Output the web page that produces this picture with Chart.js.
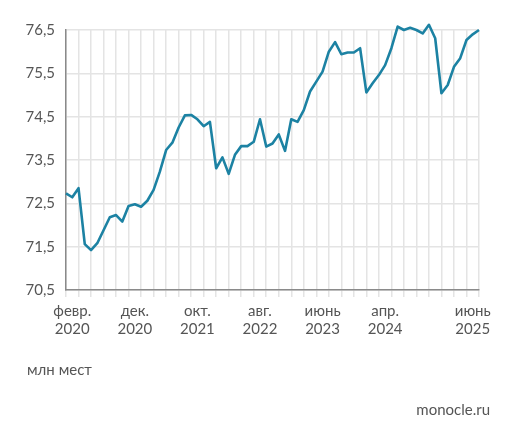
<!DOCTYPE html>
<html>
<head>
<meta charset="utf-8">
<script src="https://cdn.jsdelivr.net/npm/chart.js@4"></script>
<style>
  body { margin: 0; background: #fff; }
  #wrap { position: relative; width: 516px; height: 439px; }
  .note { position: absolute; font-family: Lato, "Open Sans", sans-serif; font-size: 15px; color: #555; }
</style>
</head>
<body>
<div id="wrap">
  <canvas id="chart" width="516" height="439"></canvas>
  <div class="note" style="left:27px; top:360px;">млн мест</div>
  <div class="note" style="right:26px; top:400px;">monocle.ru</div>
</div>
<script>
// monthly, Jan 2020 - Jul 2025
const months = [
  "2020-01","2020-02","2020-03","2020-04","2020-05","2020-06","2020-07","2020-08","2020-09","2020-10","2020-11","2020-12",
  "2021-01","2021-02","2021-03","2021-04","2021-05","2021-06","2021-07","2021-08","2021-09","2021-10","2021-11","2021-12",
  "2022-01","2022-02","2022-03","2022-04","2022-05","2022-06","2022-07","2022-08","2022-09","2022-10","2022-11","2022-12",
  "2023-01","2023-02","2023-03","2023-04","2023-05","2023-06","2023-07","2023-08","2023-09","2023-10","2023-11","2023-12",
  "2024-01","2024-02","2024-03","2024-04","2024-05","2024-06","2024-07","2024-08","2024-09","2024-10","2024-11","2024-12",
  "2025-01","2025-02","2025-03","2025-04","2025-05","2025-06","2025-07"
];

const values = [
  72.73, 72.64, 72.85, 71.56, 71.42, 71.58, 71.88, 72.18, 72.23, 72.08, 72.44, 72.48,
  72.42, 72.56, 72.81, 73.23, 73.73, 73.90, 74.25, 74.53, 74.54, 74.44, 74.28, 74.38,
  73.31, 73.56, 73.18, 73.62, 73.82, 73.82, 73.92, 74.44, 73.81, 73.88, 74.09, 73.71,
  74.44, 74.38, 74.65, 75.08, 75.31, 75.54, 76.00, 76.22, 75.94, 75.98, 75.98, 76.08,
  75.06, 75.27, 75.46, 75.69, 76.08, 76.58, 76.50, 76.55, 76.50, 76.42, 76.62, 76.31,
  75.04, 75.23, 75.65, 75.85, 76.27, 76.40, 76.50
];

// x axis labels
const tickMonths = ["2020-02", "2020-12", "2021-10", "2022-08", "2023-06", "2024-04", "2025-06"];
const tickTexts = [
  ["февр.", "2020"], ["дек.", "2020"], ["окт.", "2021"], ["авг.", "2022"],
  ["июнь", "2023"], ["апр.", "2024"], ["июнь", "2025"]
];

const yTicks = [70.5, 71.5, 72.5, 73.5, 74.5, 75.5, 76.5];

const gridColor = "#e4e4e4";
const axisColor = "#8a8a8a";
const font = { family: "Lato, 'Open Sans', sans-serif", size: 15 };

new Chart(document.getElementById("chart"), {
  type: "line",
  data: {
    labels: months,
    datasets: [{
      data: values,
      borderColor: "#1c82a3",
      borderWidth: 2.6,
      pointRadius: 0,
      tension: 0,
      clip: false,
      borderJoinStyle: "round",
    }],
  },
  options: {
    responsive: false,
    animation: false,
    layout: { padding: { top: 30, right: 37, left: 0, bottom: 0 } },
    plugins: { legend: { display: false }, tooltip: { enabled: false } },
    scales: {
      x: {
        afterFit: s => { s.height = 149; },
        border: { color: axisColor, width: 1.5 },
        grid: {
          color: ctx => (ctx.index % 2 === 0 ? gridColor : "rgba(0,0,0,0)"),
          tickColor: ctx => (ctx.index % 2 === 0 ? gridColor : "rgba(0,0,0,0)"),
          lineWidth: 1.5,
          tickLength: 7,
        },
        ticks: {
          autoSkip: false,
          maxRotation: 0,
          padding: 5,
          color: "#555",
          font: font,
          callback: function (v, i) {
            const k = tickMonths.indexOf(months[i]);
            return k >= 0 ? tickTexts[k] : "";
          },
        },
      },
      y: {
        min: yTicks[0],
        max: yTicks[yTicks.length - 1],
        afterFit: s => { s.width = 66; },
        afterBuildTicks: s => { s.ticks = yTicks.map(v => ({ value: v })); },
        border: { color: axisColor, width: 1.5 },
        grid: { color: gridColor, lineWidth: 1.5, drawTicks: false },
        ticks: {
          padding: 11,
          color: "#555",
          font: font,
          callback: v => v.toFixed(1).replace(".", ","),
        },
      },
    },
  },
});
</script>
</body>
</html>
